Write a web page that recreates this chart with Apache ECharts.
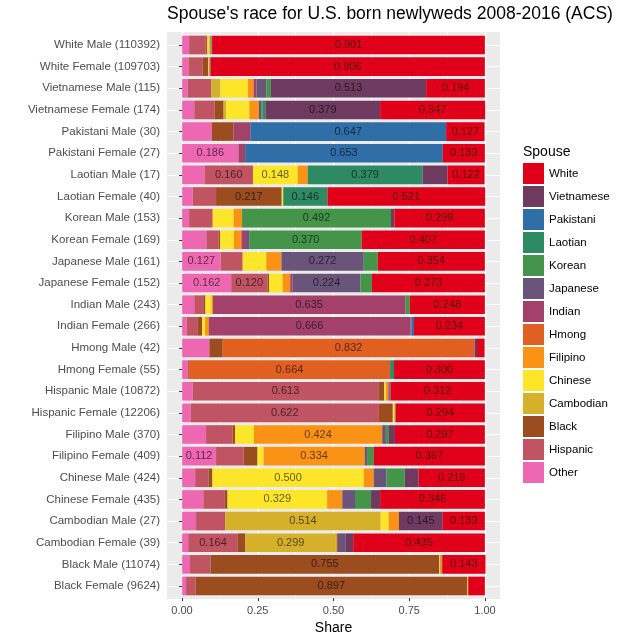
<!DOCTYPE html>
<html>
<head>
<meta charset="utf-8" />
<script src="https://cdn.jsdelivr.net/npm/echarts@6/dist/echarts.min.js"></script>
<style>
  html, body { margin: 0; padding: 0; background: #fff; }
  #main { width: 626px; height: 640px; }
</style>
</head>
<body>
<div id="main"></div>
<script type="text/javascript">
// newlywed groups, top to bottom
var groups = [
	'White Male (110392)', 'White Female (109703)',
	'Vietnamese Male (115)', 'Vietnamese Female (174)',
	'Pakistani Male (30)', 'Pakistani Female (27)',
	'Laotian Male (17)', 'Laotian Female (40)',
	'Korean Male (153)', 'Korean Female (169)',
	'Japanese Male (161)', 'Japanese Female (152)',
	'Indian Male (243)', 'Indian Female (266)',
	'Hmong Male (42)', 'Hmong Female (55)',
	'Hispanic Male (10872)', 'Hispanic Female (12206)',
	'Filipino Male (370)', 'Filipino Female (409)',
	'Chinese Male (424)', 'Chinese Female (435)',
	'Cambodian Male (27)', 'Cambodian Female (39)',
	'Black Male (11074)', 'Black Female (9624)'
];

// spouse race shares, one value per group (same order as above)
var other      = [0.023,0.021,0.018,0.040,0.098,0.186,0.074,0.035,0.023,0.080,0.127,0.162,0.040,0.015,0.090,0.018,0.035,0.028,0.079,0.112,0.043,0.070,0.046,0.020,0.026,0.013];
var hispanic   = [0.055,0.046,0.078,0.067,0,0,0.160,0.077,0.078,0.040,0.073,0.120,0.032,0.035,0,0.005,0.613,0.622,0.088,0.091,0.044,0.071,0.096,0.164,0.068,0.031];
var black      = [0.004,0.019,0,0.030,0.072,0,0,0.217,0,0.006,0,0.005,0.005,0.016,0.044,0,0.020,0.046,0.008,0.046,0.013,0.009,0,0.025,0.755,0.897];
var cambodian  = [0.002,0,0.031,0.009,0,0,0,0,0,0,0,0,0,0,0,0,0,0,0,0,0,0,0.514,0.299,0,0];
var chinese    = [0.006,0.002,0.090,0.076,0,0,0.148,0.005,0.069,0.045,0.078,0.045,0.020,0.010,0,0,0.005,0.005,0.062,0.020,0.500,0.329,0.026,0,0.002,0.002];
var filipino   = [0.004,0.003,0.019,0.031,0,0,0.033,0,0.028,0.025,0.050,0.025,0.005,0.012,0,0,0.008,0.003,0.424,0.334,0.033,0.050,0.034,0.004,0.006,0.002];
var hmong      = [0,0,0,0,0,0,0,0,0,0,0,0,0,0,0.832,0.664,0,0,0,0,0,0,0,0,0,0];
var indian     = [0,0,0.010,0,0.055,0.022,0,0,0,0.015,0,0.008,0.635,0.666,0,0,0.002,0,0,0,0,0,0,0,0,0];
var japanese   = [0.003,0.001,0.032,0.008,0,0,0,0,0,0.012,0.272,0.224,0,0.004,0,0,0.003,0.002,0.012,0.008,0.042,0.042,0,0.027,0,0];
var korean     = [0.002,0.001,0.015,0.004,0,0,0,0,0.492,0.370,0.046,0.038,0.015,0,0,0,0.002,0,0.010,0.022,0.060,0.053,0,0,0.002,0];
var laotian    = [0,0,0,0.010,0,0,0.379,0.146,0,0,0,0,0,0,0,0.013,0,0,0,0,0,0,0,0,0,0];
var pakistani  = [0,0,0,0,0.647,0.653,0,0,0,0,0,0,0,0.008,0,0,0,0,0,0,0,0,0,0,0,0];
var vietnamese = [0,0.001,0.513,0.379,0,0,0.083,0,0.011,0,0,0,0,0,0.008,0,0,0,0.020,0,0.046,0.030,0.145,0.026,0,0];
var white      = [0.901,0.906,0.194,0.347,0.127,0.139,0.122,0.521,0.299,0.407,0.354,0.373,0.248,0.234,0.025,0.300,0.312,0.294,0.297,0.367,0.219,0.346,0.139,0.435,0.143,0.055];

// stacking order, left to right
var spouseNames = ['Other','Hispanic','Black','Cambodian','Chinese','Filipino','Hmong',
	'Indian','Japanese','Korean','Laotian','Pakistani','Vietnamese','White'];
var spouseData = [other, hispanic, black, cambodian, chinese, filipino, hmong,
	indian, japanese, korean, laotian, pakistani, vietnamese, white];
var spouseColors = ['#EE67B3','#C05462','#9B4D1F','#D5B12B','#FDE52A','#FA9216','#E25F22',
	'#A3416B','#6A5479','#44944A','#2E8A62','#2F6EA6','#6F3A5F','#E1001A'];

var font = 'Liberation Sans, Arial, Helvetica, sans-serif';

var myChart = echarts.init(document.getElementById('main'));

var series = [];
for (var i = 0; i < spouseNames.length; i++) {
	series.push({
		name: spouseNames[i],
		type: 'bar',
		stack: 'share',
		xAxisIndex: 0,
		yAxisIndex: 0,
		barWidth: '86%',
		itemStyle: { color: spouseColors[i] },
		label: {
			show: true,
			position: 'inside',
			fontFamily: font,
			fontSize: 11,
			color: 'rgba(0,0,0,0.62)',
			formatter: function (p) {
				return p.value >= 0.1 ? p.value.toFixed(3) : ''; // only label big shares
			}
		},
		emphasis: { disabled: true },
		data: spouseData[i]
	});
}

var option = {
	animation: false,
	title: {
		text: "Spouse's race for U.S. born newlyweds 2008-2016 (ACS)",
		left: 162,
		top: 0,
		textStyle: { fontFamily: font, fontSize: 17.5, fontWeight: 'normal', color: '#000' }
	},
	legend: {
		orient: 'vertical',
		left: 523,
		top: 163,
		padding: 0,
		itemWidth: 21,
		itemHeight: 21,
		itemGap: 2,
		icon: 'rect',
		selectedMode: false,
		textStyle: { fontFamily: font, fontSize: 11.5, color: '#000' },
		data: spouseNames.slice().reverse()
	},
	graphic: [
		{ type: 'rect', z: -10, shape: { x: 167, y: 32, width: 333, height: 567 }, style: { fill: '#EBEBEB' } },
		{ type: 'text', left: 523, top: 145, style: { text: 'Spouse', fontFamily: font, fontSize: 14, fill: '#000' } }
	],
	grid: [
		// bars (x expanded 5% both sides like ggplot)
		{ left: 167, right: 126, top: 34.2, bottom: 43.2 },
		// x axis with breaks 0..1
		{ left: 182, right: 141, top: 32, bottom: 41 }
	],
	xAxis: [
		{ gridIndex: 0, type: 'value', min: -0.05, max: 1.05, show: false },
		{
			gridIndex: 1, type: 'value', min: 0, max: 1, interval: 0.25,
			axisLine: { show: false },
			axisTick: { show: true, length: 3, lineStyle: { color: '#333' } },
			axisLabel: {
				margin: 7, fontFamily: font, fontSize: 11, color: '#4D4D4D',
				formatter: function (v) { return v.toFixed(2); }
			},
			splitLine: { show: true, lineStyle: { color: '#fff', width: 1.2 } },
			minorTick: { show: false, splitNumber: 2 },
			minorSplitLine: { show: true, lineStyle: { color: '#fff', width: 0.6 } },
			name: 'Share',
			nameLocation: 'middle',
			nameGap: 22,
			nameTextStyle: { fontFamily: font, fontSize: 14, color: '#000' }
		}
	],
	yAxis: [
		{
			gridIndex: 0, type: 'category', inverse: true, data: groups,
			axisLine: { show: false },
			axisTick: { show: true, length: 3, alignWithLabel: true, lineStyle: { color: '#333' } },
			axisLabel: { margin: 7, fontFamily: font, fontSize: 11.5, color: '#4D4D4D' },
			splitLine: { show: true, alignWithLabel: true, lineStyle: { color: '#fff', width: 1.2 } }
		},
		{ gridIndex: 1, type: 'value', show: false }
	],
	series: series
};

myChart.setOption(option);
</script>
</body>
</html>
